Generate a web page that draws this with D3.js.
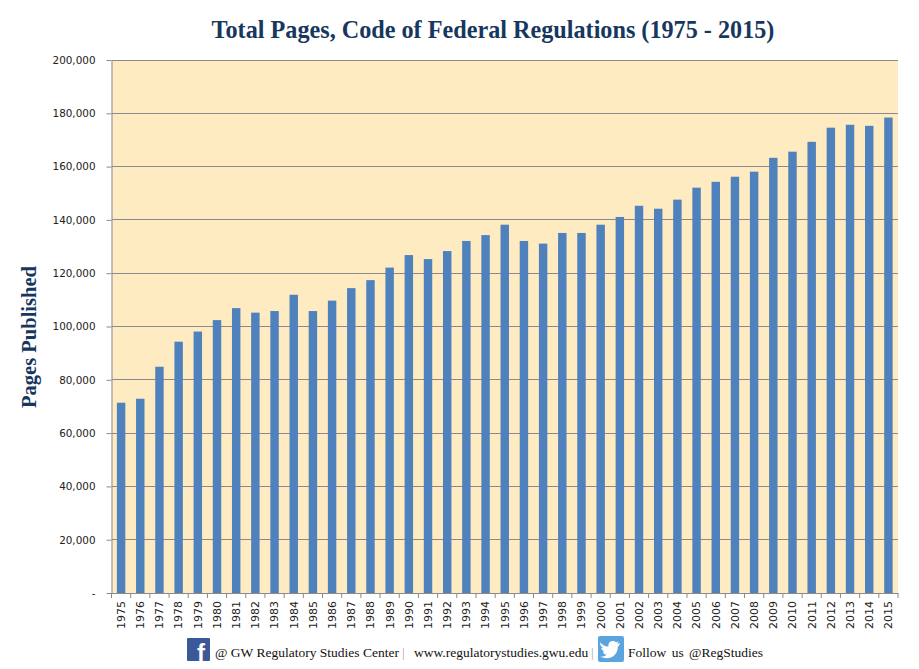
<!DOCTYPE html>
<html><head><meta charset="utf-8">
<script src="https://cdn.jsdelivr.net/npm/d3@7"></script>
<style>body{margin:0;background:#fff}svg{display:block}</style>
</head><body>
<script>
const years = ["1975","1976","1977","1978","1979","1980","1981","1982","1983","1984","1985","1986","1987","1988","1989","1990","1991","1992","1993","1994","1995","1996","1997","1998","1999","2000","2001","2002","2003","2004","2005","2006","2007","2008","2009","2010","2011","2012","2013","2014","2015"];
const pages = [71400,72900,84900,94300,98100,102400,106900,105200,105800,111900,105800,109700,114400,117400,122100,126800,125300,128300,132100,134300,138200,132100,131100,135100,135100,138200,141100,145300,144200,147600,152100,154300,156200,158100,163300,165600,169300,174600,175700,175300,178400];
const yTicks = [0,20000,40000,60000,80000,100000,120000,140000,160000,180000,200000];
const title = "Total Pages, Code of Federal Regulations (1975 - 2015)";
const yTitle = "Pages Published";

const W=919,H=669;
const m={left:111.5,right:898,top:60,bottom:593};
const svg=d3.select("body").append("svg").attr("width",W).attr("height",H);
const x=d3.scaleBand().domain(years).range([m.left,m.right]).paddingInner(0.56).paddingOuter(0.28);
const y=d3.scaleLinear().domain([0,200000]).range([m.bottom,m.top]);

svg.append("rect").attr("x",m.left).attr("y",m.top).attr("width",m.right-m.left).attr("height",m.bottom-m.top).attr("fill","#FEEBC1");

// gridlines
svg.append("g").selectAll("line").data(yTicks.filter(d=>d>0)).join("line")
  .attr("x1",m.left).attr("x2",m.right).attr("y1",d=>y(d)).attr("y2",d=>y(d))
  .attr("stroke","#8a8a8a").attr("stroke-width",1).attr("shape-rendering","crispEdges");

svg.append("g").selectAll("rect").data(years).join("rect")
  .attr("x",d=>x(d)).attr("width",x.bandwidth())
  .attr("y",(d,i)=>y(pages[i])).attr("height",(d,i)=>y(0)-y(pages[i]))
  .attr("fill","#4F81BD");

// y axis
const ya=svg.append("g").attr("transform",`translate(${m.left},0)`)
  .call(d3.axisLeft(y).tickValues(yTicks).tickSize(5).tickSizeOuter(0).tickFormat(d=>d===0?"-":d3.format(",")(d)));
ya.select(".domain").attr("stroke","#8a8a8a");
ya.selectAll(".tick line").attr("stroke","#8a8a8a");
ya.selectAll("text").attr("font-family","DejaVu Sans, Verdana, sans-serif").attr("font-size","10.4px").attr("fill","#222").attr("dx","-8");

// x axis
const xa=svg.append("g").attr("transform",`translate(0,${m.bottom})`)
  .call(d3.axisBottom(x).tickSize(0).tickSizeOuter(0));
xa.select(".domain").attr("stroke","#8a8a8a");
xa.selectAll(".tick text").attr("font-family","DejaVu Sans, Verdana, sans-serif").attr("font-size","11px").attr("fill","#222")
  .attr("transform","rotate(-90)").attr("text-anchor","end").attr("x",-8).attr("y",0).attr("dy","0.35em");
const bounds=d3.range(years.length+1).map(i=>m.left+i*((m.right-m.left)/years.length));
xa.append("g").selectAll("line").data(bounds).join("line")
  .attr("x1",d=>d).attr("x2",d=>d).attr("y1",0).attr("y2",5).attr("stroke","#8a8a8a");

// title
svg.append("text").attr("x",493).attr("y",38).attr("text-anchor","middle")
  .attr("font-family","Liberation Serif, Times New Roman, serif").attr("font-weight","bold").attr("font-size","24.2px")
  .attr("fill","#17375E").text(title);
svg.append("text").attr("transform","translate(36,337) rotate(-90)").attr("text-anchor","middle")
  .attr("font-family","Liberation Serif, Times New Roman, serif").attr("font-weight","bold").attr("font-size","20.5px")
  .attr("fill","#17375E").text(yTitle);

// footer
const fb=svg.append("g").attr("transform","translate(187,638)");
fb.append("rect").attr("width",23).attr("height",23).attr("fill","#3B5998").attr("rx",1);
fb.append("text").attr("x",14).attr("y",23).attr("text-anchor","middle").attr("font-family","Liberation Sans, Arial, sans-serif").attr("font-weight","bold").attr("font-size","24px").attr("fill","#fff").text("f");
const ff="Liberation Serif, Times New Roman, serif";
svg.append("text").attr("x",215).attr("y",657).attr("font-family",ff).attr("font-size","13.5px").attr("fill","#111")
  .text("@ GW Regulatory Studies Center");
svg.append("text").attr("x",402).attr("y",657).attr("font-family",ff).attr("font-size","13.5px").attr("fill","#aaa").text("|");
svg.append("text").attr("x",414).attr("y",657).attr("font-family",ff).attr("font-size","13.5px").attr("fill","#111").text("www.regulatorystudies.gwu.edu");
svg.append("text").attr("x",591).attr("y",657).attr("font-family",ff).attr("font-size","13.5px").attr("fill","#aaa").text("|");
const tw=svg.append("g").attr("transform","translate(598,636)");
tw.append("rect").attr("width",26).attr("height",26).attr("fill","#5BA4DE").attr("rx",2);
tw.append("path").attr("d","M21,7 C19.5,7.7 18.5,7.8 17.8,7.9 C18.8,7.3 19.4,6.5 19.7,5.6 C18.8,6.1 17.8,6.5 16.8,6.7 C15.9,5.8 14.7,5.3 13.4,5.3 C10.8,5.3 8.8,7.4 8.8,10 C8.8,10.4 8.8,10.7 8.9,11 C5.1,10.8 1.9,9 -0.3,6.2 C0.3,9.5 1.2,11 3.3,12.6 C2.5,12.6 1.8,12.4 1.2,12 C1.6,14.7 3.3,15.9 5.1,16.4 C4.4,16.6 3.7,16.6 3,16.5 C3.6,18.3 5.2,19.6 7.1,19.7 C5.2,21.2 3,21.8 0.5,21.6 C2.4,22.8 4.7,23.4 7.1,23.4 C14.6,23.4 18.7,17.2 18.7,11.8 L18.7,11.3 C19.7,10.5 20.4,9.6 21,7 Z")
  .attr("fill","#fff").attr("transform","translate(2,0) scale(0.95)");
svg.append("text").attr("x",628).attr("y",657).attr("font-family",ff).attr("font-size","13.5px").attr("fill","#111").attr("word-spacing","2px").text("Follow  us @RegStudies");
</script>
</body></html>
